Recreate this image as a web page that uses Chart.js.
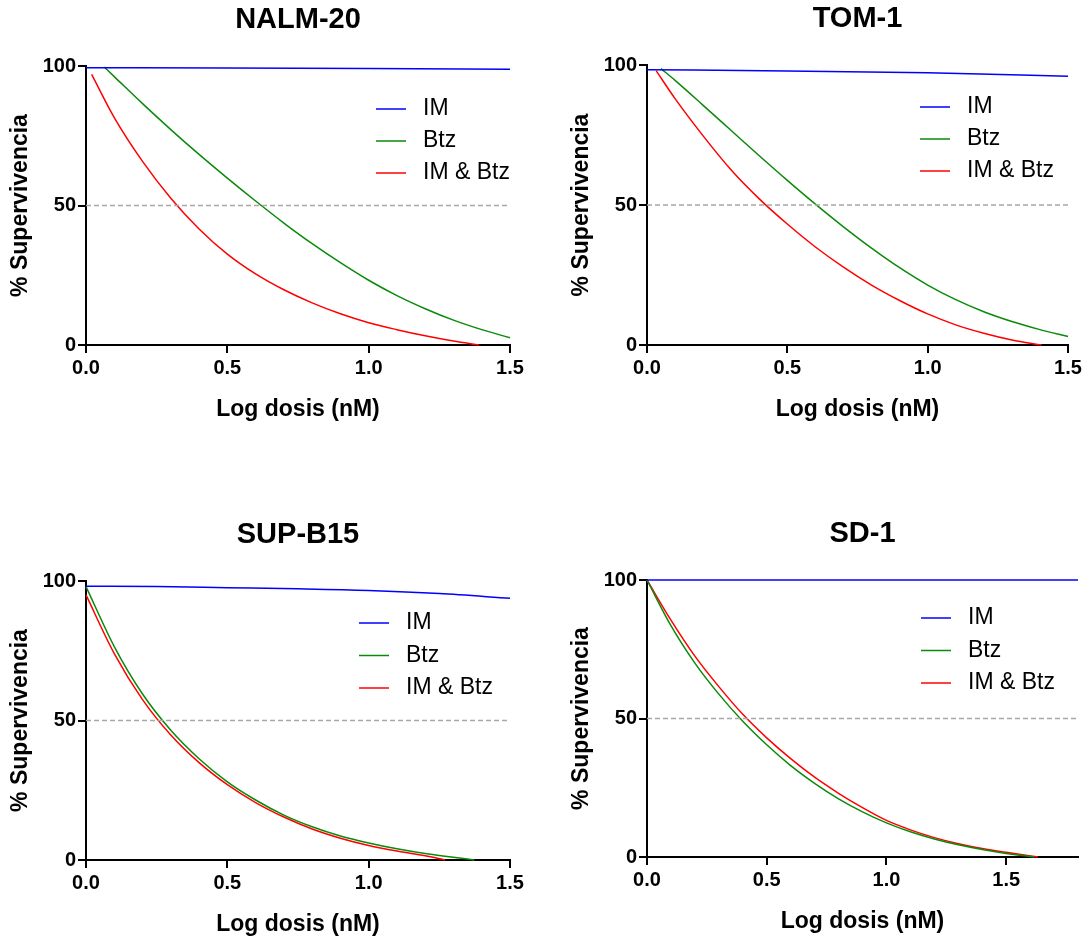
<!DOCTYPE html>
<html>
<head>
<meta charset="utf-8">
<script src="https://cdn.jsdelivr.net/npm/chart.js@4.4.1/dist/chart.umd.min.js"></script>
<style>
  html, body { margin: 0; padding: 0; background: #fff; }
  body { width: 1089px; height: 942px; position: relative; overflow: hidden; }
  canvas { position: absolute; }
</style>
</head>
<body>
<canvas id="nalm"></canvas>
<canvas id="tom"></canvas>
<canvas id="sup"></canvas>
<canvas id="sd"></canvas>
<script>
// Dose-response fits: log dose (nM) vs % survival, one panel per cell line
const seriesNames = ["IM", "Btz", "IM & Btz"];
const seriesColors = ["#0000ff", "#0a8a0a", "#ff0000"];
const halfLevel = 50;
const yTicks = [0, 50, 100];
const xTicksShort = [0, 0.5, 1.0, 1.5];

// NALM-20
const nalmDoseIM = [0, 0.5, 1.0, 1.5];
const nalmIM = [99.4, 99.3, 99.1, 98.8];
const nalmDoseBtz = [0.065, 0.1, 0.2, 0.3, 0.4, 0.5, 0.6, 0.7, 0.8, 0.9, 1.0, 1.1, 1.2, 1.3, 1.4, 1.5];
const nalmBtz = [99.6, 96.2, 86.5, 77.2, 68.3, 59.8, 51.6, 43.7, 36.3, 29.5, 23.2, 17.7, 13, 8.9, 5.5, 2.6];
const nalmDoseCombo = [0.02, 0.1, 0.2, 0.3, 0.4, 0.5, 0.6, 0.7, 0.8, 0.9, 1.0, 1.1, 1.2, 1.3, 1.39];
const nalmCombo = [97, 81.5, 65.8, 52.6, 41.6, 32.6, 25.5, 19.8, 15.1, 11.2, 8.0, 5.5, 3.3, 1.4, 0];

// TOM-1
const tomDoseIM = [0, 0.5, 1.0, 1.5];
const tomIM = [98.3, 97.9, 97.2, 96];
const tomDoseBtz = [0.05, 0.1, 0.2, 0.3, 0.4, 0.5, 0.6, 0.7, 0.8, 0.9, 1.0, 1.1, 1.2, 1.3, 1.4, 1.5];
const tomBtz = [98.7, 94.5, 85.6, 76.6, 67.6, 58.8, 50.3, 42.2, 34.6, 27.6, 21.4, 16.2, 11.9, 8.4, 5.5, 3];
const tomDoseCombo = [0.033, 0.1, 0.2, 0.3, 0.4, 0.5, 0.6, 0.7, 0.8, 0.9, 1.0, 1.1, 1.2, 1.3, 1.406];
const tomCombo = [97.9, 88, 74.7, 62.5, 52.2, 43.2, 35, 27.8, 21.4, 15.9, 11.1, 7.2, 4.2, 1.8, 0];

// SUP-B15
const supDoseIM = [0, 0.25, 0.5, 0.75, 1.0, 1.25, 1.5];
const supIM = [98.1, 98, 97.6, 97.2, 96.6, 95.5, 93.8];
const supDoseBtz = [0, 0.1, 0.2, 0.3, 0.4, 0.5, 0.6, 0.7, 0.8, 0.9, 1.0, 1.1, 1.2, 1.3, 1.374];
const supBtz = [98, 76.5, 59.5, 46.5, 36.3, 28, 21.5, 16.1, 11.9, 8.6, 6.1, 4.0, 2.3, 1.0, 0];
const supDoseCombo = [0, 0.1, 0.2, 0.3, 0.4, 0.5, 0.6, 0.7, 0.8, 0.9, 1.0, 1.1, 1.2, 1.27];
const supCombo = [95, 74, 57.5, 44.8, 34.9, 27, 20.6, 15.4, 11.1, 7.8, 5.2, 3.2, 1.5, 0];

// SD-1
const sdDoseIM = [0, 1.8];
const sdIM = [100, 100];
const sdDoseBtz = [0, 0.1, 0.2, 0.3, 0.4, 0.5, 0.6, 0.7, 0.8, 0.9, 1.0, 1.1, 1.2, 1.3, 1.4, 1.5, 1.618];
const sdBtz = [100, 83.5, 70, 58.8, 49, 40.5, 33, 26.6, 21, 16.3, 12.3, 9.1, 6.5, 4.4, 2.7, 1.3, 0];
const sdDoseCombo = [0, 0.1, 0.2, 0.3, 0.4, 0.5, 0.6, 0.7, 0.8, 0.9, 1.0, 1.1, 1.2, 1.3, 1.4, 1.5, 1.633];
const sdCombo = [100, 85.5, 72.5, 61.5, 51.5, 43, 35.5, 28.8, 23, 17.8, 13.2, 9.8, 7.0, 4.8, 3.1, 1.7, 0];

Chart.defaults.font.family = '"Liberation Sans", Arial, sans-serif';
Chart.defaults.color = "#000";

const FONT = '"Liberation Sans", Arial, sans-serif';
const Y_AXIS_W = 86, TOP_H = 66, X_AXIS_H = 80, PAD_R = 40, PAD_B = 4;

const toPoints = (xs, ys) => xs.map((x, i) => ({x: x, y: ys[i]}));

// small in-plot legend: coloured line + label, stacked
const lineLegend = {
  id: "lineLegend",
  afterDraw(chart, args, opts) {
    const {ctx, chartArea} = chart;
    ctx.save();
    ctx.font = "23px " + FONT;
    ctx.textBaseline = "middle";
    let y = chartArea.top + opts.top;
    const x = chartArea.left + opts.left;
    chart.data.datasets.forEach(ds => {
      if (!ds.label) return;
      ctx.strokeStyle = ds.borderColor;
      ctx.lineWidth = 1.5;
      ctx.beginPath();
      ctx.moveTo(x, y);
      ctx.lineTo(x + 30, y);
      ctx.stroke();
      ctx.fillStyle = "#000";
      ctx.fillText(ds.label, x + 47, y);
      y += opts.gap;
    });
    ctx.restore();
  }
};

function drawPanel(id, title, area, xMax, xTicks, curves, legend) {
  const cv = document.getElementById(id);
  const w = area.r - area.l + Y_AXIS_W + PAD_R;
  const h = area.b - area.t + TOP_H + X_AXIS_H + PAD_B;
  cv.width = w;
  cv.height = h;
  cv.style.left = (area.l - Y_AXIS_W) + "px";
  cv.style.top = (area.t - TOP_H) + "px";

  const datasets = curves.map((c, i) => ({
    label: seriesNames[i],
    data: toPoints(c[0], c[1]),
    borderColor: seriesColors[i],
    borderWidth: 1.5,
    pointRadius: 0,
    cubicInterpolationMode: "monotone",
    clip: false
  }));
  datasets.unshift({
    label: "",
    data: [{x: 0, y: halfLevel}, {x: xMax, y: halfLevel}],
    borderColor: "#a8a8a8",
    borderWidth: 1.5,
    borderDash: [5, 3],
    pointRadius: 0
  });

  new Chart(cv, {
    type: "line",
    data: {datasets: datasets},
    plugins: [lineLegend],
    options: {
      responsive: false,
      animation: false,
      layout: {padding: {left: 0, top: 0, right: PAD_R, bottom: PAD_B}},
      plugins: {
        legend: {display: false},
        tooltip: {enabled: false},
        title: {
          display: true,
          text: title,
          fullSize: false,
          color: "#000",
          font: {size: 29, weight: "bold"},
          padding: {top: 2.6, bottom: TOP_H - 2.6 - 29 * 1.2}
        },
        lineLegend: legend
      },
      scales: {
        x: {
          type: "linear",
          min: 0,
          max: xMax,
          afterFit: s => { s.height = X_AXIS_H; },
          afterBuildTicks: s => { s.ticks = xTicks.map(v => ({value: v})); },
          border: {display: true, color: "#000", width: 2},
          grid: {drawOnChartArea: false, drawTicks: true, tickLength: 8, color: "#000", lineWidth: 2},
          ticks: {
            color: "#000",
            font: {size: 20, weight: "bold"},
            padding: 3,
            maxRotation: 0,
            callback: v => Number(v).toFixed(1)
          },
          title: {
            display: true,
            text: "Log dosis (nM)",
            color: "#000",
            font: {size: 23, weight: "bold"},
            padding: {top: 0, bottom: 1.2}
          }
        },
        y: {
          type: "linear",
          min: 0,
          max: 100,
          afterFit: s => { s.width = Y_AXIS_W; },
          afterBuildTicks: s => { s.ticks = yTicks.map(v => ({value: v})); },
          border: {display: true, color: "#000", width: 2},
          grid: {drawOnChartArea: false, drawTicks: true, tickLength: 8, color: "#000", lineWidth: 2},
          ticks: {
            color: "#000",
            font: {size: 20, weight: "bold"},
            padding: 2
          },
          title: {
            display: true,
            text: "% Supervivencia",
            color: "#000",
            font: {size: 23, weight: "bold"},
            padding: {top: 6.7, bottom: 0}
          }
        }
      }
    }
  });
}

drawPanel("nalm", "NALM-20", {l: 86, r: 510, t: 66, b: 345}, 1.5, xTicksShort,
  [[nalmDoseIM, nalmIM], [nalmDoseBtz, nalmBtz], [nalmDoseCombo, nalmCombo]],
  {left: 290, top: 43, gap: 32});

drawPanel("tom", "TOM-1", {l: 647, r: 1068, t: 65, b: 345}, 1.5, xTicksShort,
  [[tomDoseIM, tomIM], [tomDoseBtz, tomBtz], [tomDoseCombo, tomCombo]],
  {left: 273, top: 42, gap: 32});

drawPanel("sup", "SUP-B15", {l: 86, r: 510, t: 581, b: 860}, 1.5, xTicksShort,
  [[supDoseIM, supIM], [supDoseBtz, supBtz], [supDoseCombo, supCombo]],
  {left: 273, top: 42, gap: 32.5});

drawPanel("sd", "SD-1", {l: 647, r: 1078, t: 580, b: 857}, 1.8, xTicksShort,
  [[sdDoseIM, sdIM], [sdDoseBtz, sdBtz], [sdDoseCombo, sdCombo]],
  {left: 274, top: 38, gap: 32.5});
</script>
</body>
</html>
